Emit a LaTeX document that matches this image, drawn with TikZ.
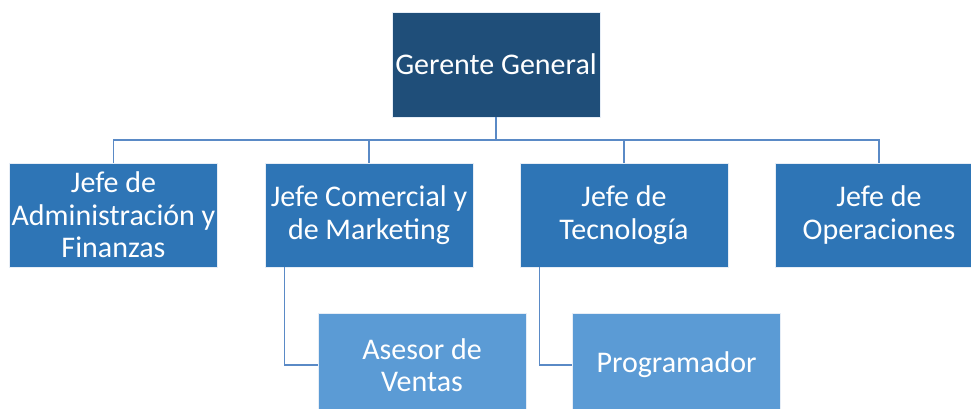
\documentclass[tikz,border=0pt]{standalone}
\usepackage{fontspec}
\setmainfont{Carlito}
\definecolor{cTop}{HTML}{1F4E79}
\definecolor{cMid}{HTML}{2E75B6}
\definecolor{cSub}{HTML}{5B9BD5}
\definecolor{cLine}{HTML}{5A8AC6}
\begin{document}
\begin{tikzpicture}[x=1pt,y=-1pt,
  box/.style={draw=white!85!cLine,line width=0.8pt,text=white,align=center,
    font=\fontsize{30}{32.5}\selectfont,inner sep=0pt,
    minimum width=208pt,minimum height=104pt},
  conn/.style={draw=cLine,line width=1.6pt}]
\clip (0,0) rectangle (971,409);
\fill[white] (0,0) rectangle (971,409);
\node[box,fill=cTop,minimum height=105pt] (gg) at (496,64.5) {Gerente General};
\node[box,fill=cMid] (b1) at (113.5,215) {Jefe de\\Administración y\\Finanzas};
\node[box,fill=cMid] (b2) at (369,215) {Jefe Comercial y\\de Marketing};
\node[box,fill=cMid] (b3) at (624,215) {Jefe de\\Tecnología};
\node[box,fill=cMid] (b4) at (879,215) {Jefe de\\Operaciones};
\node[box,fill=cSub] (s1) at (422,365) {Asesor de\\Ventas};
\node[box,fill=cSub] (s2) at (676.5,365) {Programador};
\coordinate (j) at (496,140);
\draw[conn] (gg.south) -- (j);
\draw[conn] (b1.north) |- (j) -| (b4.north);
\draw[conn] (b2.north) -- (b2.north |- j);
\draw[conn] (b3.north) -- (b3.north |- j);
\draw[conn] ([xshift=20pt]b2.south west) |- (s1.west);
\draw[conn] ([xshift=20pt]b3.south west) |- (s2.west);
\end{tikzpicture}
\end{document}
